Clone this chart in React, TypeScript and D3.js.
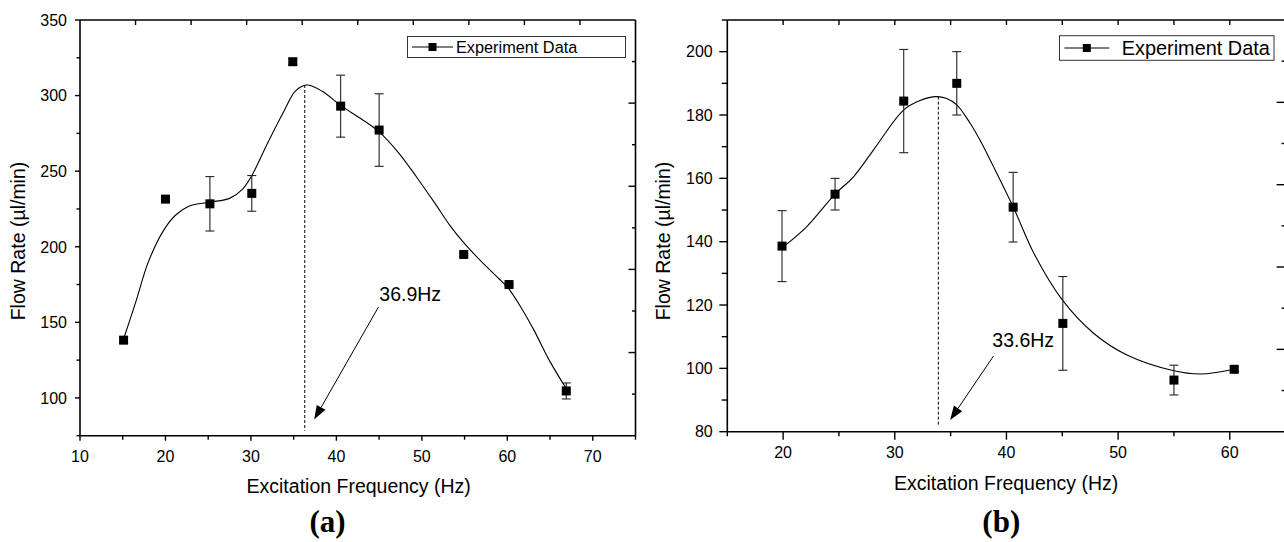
import React from "react";
import * as d3 from "d3";

// ---------- Panel (a) data ----------
const freqA = [15.1, 20.0, 25.2, 30.1, 34.9, 40.5, 45.0, 54.9, 60.2, 66.9];
const flowA = [138.2, 231.5, 228.4, 235.3, 322.4, 293.0, 277.2, 194.9, 175.0, 104.6];
const errA = [2, 2, 18, 11.8, 2, 20.5, 24, 1, 1, 5.3];
const fitXA = [15.1, 16.5, 18, 19.8, 21.2, 22.8, 25.2, 27.5, 29, 30.1, 31.9, 33.8, 35.2, 36.5, 38.3, 40.6, 42.8, 45, 47.3, 49.4, 51.5, 53.3, 55, 57, 59, 60.2, 61.8, 63.1, 65, 66.8];
const fitYA = [139, 163, 190, 211, 221, 227, 229.5, 232, 238, 247, 268, 289, 303, 307, 303, 293, 285, 276, 262, 246, 229, 214, 202, 190, 179, 172, 158, 145, 124, 107];
const peakA = [36.3, 307];
const arrowA = [44.93, 160.2, 37.4, 85.7];
const labelA = "36.9Hz";
const xTicksA = [10, 20, 30, 40, 50, 60, 70];
const xMinorA = [15, 25, 35, 45, 55, 65, 75];
const yTicksA = [100, 150, 200, 250, 300, 350];
const yMinorA = [75, 125, 175, 225, 275, 325];

// ---------- Panel (b) data ----------
const freqB = [19.9, 24.65, 30.8, 35.55, 40.6, 45.05, 55.0, 60.4];
const flowB = [138.6, 155.0, 184.4, 190.0, 150.9, 114.2, 96.3, 99.7];
const errB = [11.2, 5, 16.3, 10, 11, 14.8, 4.7, 0.8];
const fitXB = [20.2, 22.1, 24.65, 26.3, 28.1, 30.8, 32.2, 33.6, 34.6, 35.55, 36.75, 37.64, 38.84, 40.6, 42.5, 45, 47.8, 50.8, 54.9, 57.4, 60.4];
const fitYB = [138.9, 144.7, 155, 160.5, 169, 181.6, 184.5, 185.8, 185.3, 183.2, 177.4, 172, 163.7, 151, 136, 121.6, 111.1, 104.2, 99.3, 98.2, 99.7];
const peakB = [33.9, 185.8];
const arrowB = [38.84, 103.9, 34.96, 83.7];
const labelB = "33.6Hz";
const xTicksB = [20, 30, 40, 50, 60];
const xMinorB = [15, 25, 35, 45, 55, 65];
const yTicksB = [80, 100, 120, 140, 160, 180, 200];
const yMinorB = [90, 110, 130, 150, 170, 190, 210];

const auxTicks = [1, 2, 3, 4, 5, 6, 7, 8, 9];

const SANS = "'Liberation Sans', Arial, Helvetica, sans-serif";
const SERIF = "'Liberation Serif', 'Times New Roman', serif";

type PanelProps = {
  xs: number[]; ys: number[]; errs: number[];
  fitX: number[]; fitY: number[];
  peak: number[]; arrow: number[]; label: string;
  xDomain: [number, number]; yDomain: [number, number];
  xRange: [number, number]; yRange: [number, number];
  xTicks: number[]; xMinor: number[]; yTicks: number[]; yMinor: number[];
  majorLen: number; minorLen: number; yMinorLen: number; rightLong: number; rightShort: number;
  yLabelGap: number;
  legend: { x0: number; x1: number; y0: number; y1: number; lx0: number; lx1: number; tx: number; fs: number };
  labelPos: [number, number]; labelFs: number;
  xTitle: [number, number]; yTitle: [number, number];
  tag: string; tagX: number;
};

function Panel(p: PanelProps) {
  const x = d3.scaleLinear().domain(p.xDomain).range(p.xRange);
  const y = d3.scaleLinear().domain(p.yDomain).range(p.yRange);
  const auxX = d3.scaleLinear().domain([0, 10]).range(p.xRange);
  const auxY = d3.scaleLinear().domain([0, 10]).range(p.yRange);
  const [xl, xr] = p.xRange;
  const [yb, yt] = p.yRange;
  const line = d3.line<number>()
    .x((_, i) => x(p.fitX[i]))
    .y((_, i) => y(p.fitY[i]))
    .curve(d3.curveCatmullRom.alpha(0.5));
  const fitPath = line(p.fitX) || "";

  const ax1 = x(p.arrow[0]), ay1 = y(p.arrow[1]), ax2 = x(p.arrow[2]), ay2 = y(p.arrow[3]);
  const ang = Math.atan2(ay2 - ay1, ax2 - ax1);
  const hl = 14, hw = 5;
  const bx = ax2 - hl * Math.cos(ang), by = ay2 - hl * Math.sin(ang);
  const head = `M${ax2},${ay2}L${bx + hw * Math.sin(ang)},${by - hw * Math.cos(ang)}L${bx - hw * Math.sin(ang)},${by + hw * Math.cos(ang)}Z`;

  const lg = p.legend;
  const ly = (lg.y0 + lg.y1) / 2;
  const ms = 9;
  const cap = 4.5;

  return (
    <g>
      {/* fit curve */}
      <path d={fitPath} fill="none" stroke="#000" strokeWidth={1.1} />
      {/* dashed peak line */}
      <line x1={x(p.peak[0])} x2={x(p.peak[0])} y1={y(p.peak[1])} y2={yb - 5} stroke="#000" strokeWidth={1} strokeDasharray="3,2" />
      {/* error bars */}
      {p.xs.map((v, i) => {
        const cx = x(v);
        const t = y(p.ys[i] + p.errs[i]);
        const b = y(p.ys[i] - p.errs[i]);
        return (
          <g key={"e" + i} stroke="#222" strokeWidth={1.1}>
            <line x1={cx} x2={cx} y1={t} y2={b} />
            <line x1={cx - cap} x2={cx + cap} y1={t} y2={t} />
            <line x1={cx - cap} x2={cx + cap} y1={b} y2={b} />
          </g>
        );
      })}
      {/* markers */}
      {p.xs.map((v, i) => (
        <rect key={"m" + i} x={x(v) - ms / 2} y={y(p.ys[i]) - ms / 2} width={ms} height={ms} fill="#000" />
      ))}
      {/* annotation */}
      <line x1={ax1} y1={ay1} x2={bx} y2={by} stroke="#000" strokeWidth={1} />
      <path d={head} fill="#000" />
      <text x={p.labelPos[0]} y={p.labelPos[1]} fontFamily={SANS} fontSize={p.labelFs} fill="#000">{p.label}</text>

      {/* frame */}
      <g stroke="#000" strokeWidth={1.6} fill="none">
        <line x1={xl} x2={xr} y1={yb} y2={yb} />
        <line x1={xl} x2={xr} y1={yt} y2={yt} />
        <line x1={xl} x2={xl} y1={yt} y2={yb} />
        <line x1={xr} x2={xr} y1={yt} y2={yb} />
      </g>
      {/* ticks */}
      <g stroke="#000" strokeWidth={1.4}>
        {p.xTicks.map((t) => <line key={"xt" + t} x1={x(t)} x2={x(t)} y1={yb} y2={yb + p.majorLen} />)}
        {p.xMinor.map((t) => <line key={"xm" + t} x1={x(t)} x2={x(t)} y1={yb} y2={yb + p.minorLen} />)}
        {p.yTicks.map((t) => <line key={"yt" + t} x1={xl} x2={xl - p.majorLen} y1={y(t)} y2={y(t)} />)}
        {p.yMinor.map((t) => <line key={"ym" + t} x1={xl} x2={xl - p.yMinorLen} y1={y(t)} y2={y(t)} />)}
        {auxTicks.map((t) => <line key={"tt" + t} x1={auxX(t)} x2={auxX(t)} y1={yt} y2={yt + 5} />)}
        {auxTicks.map((t) => <line key={"rt" + t} x1={xr} x2={xr - (t % 2 === 0 ? p.rightLong : p.rightShort)} y1={auxY(t)} y2={auxY(t)} />)}
      </g>
      {/* tick labels */}
      <g fontFamily={SANS} fontSize={16} fill="#000">
        {p.xTicks.map((t) => (
          <text key={"xl" + t} x={x(t)} y={yb + 26.6} textAnchor="middle">{t}</text>
        ))}
        {p.yTicks.map((t) => (
          <text key={"yl" + t} x={xl - p.yLabelGap} y={y(t)} dy="0.36em" textAnchor="end">{t}</text>
        ))}
      </g>
      {/* axis titles */}
      <text x={p.xTitle[0]} y={p.xTitle[1]} textAnchor="middle" fontFamily={SANS} fontSize={19.5} fill="#000">Excitation Frequency (Hz)</text>
      <text transform={`translate(${p.yTitle[0]},${p.yTitle[1]}) rotate(-90)`} textAnchor="middle" fontFamily={SANS} fontSize={19.5} fill="#000">Flow Rate (µl/min)</text>
      {/* legend */}
      <rect x={lg.x0} y={lg.y0} width={lg.x1 - lg.x0} height={lg.y1 - lg.y0} fill="#fff" stroke="#333" strokeWidth={1} />
      <line x1={lg.lx0} x2={lg.lx1} y1={ly} y2={ly} stroke="#000" strokeWidth={1} />
      <rect x={(lg.lx0 + lg.lx1) / 2 - 4} y={ly - 4} width={8} height={8} fill="#000" />
      <text x={lg.tx} y={ly} dy="0.36em" fontFamily={SANS} fontSize={lg.fs} fill="#000">Experiment Data</text>
      {/* panel tag */}
      <text x={p.tagX} y={532} textAnchor="middle" fontFamily={SERIF} fontWeight="bold" fontSize={31} fill="#000">{p.tag}</text>
    </g>
  );
}

export default function App() {
  return (
    <div style={{ position: "absolute", left: 0, top: 0 }}>
      <svg width={1284} height={542} style={{ display: "block", background: "#fff" }}>
        <Panel
          xs={freqA} ys={flowA} errs={errA} fitX={fitXA} fitY={fitYA}
          peak={peakA} arrow={arrowA} label={labelA}
          xDomain={[10, 75]} yDomain={[75, 350]} xRange={[80, 635.5]} yRange={[435.7, 20]}
          xTicks={xTicksA} xMinor={xMinorA} yTicks={yTicksA} yMinor={yMinorA}
          majorLen={5} minorLen={4} yMinorLen={3.5} rightLong={7} rightShort={3.5}
          yLabelGap={13}
          legend={{ x0: 407.5, x1: 625.5, y0: 36.5, y1: 57.5, lx0: 412, lx1: 453, tx: 456, fs: 16.3 }}
          labelPos={[379.3, 300.7]} labelFs={19.5}
          xTitle={[358.7, 492.7]} yTitle={[25, 241]}
          tag="(a)" tagX={327.5}
        />
        <Panel
          xs={freqB} ys={flowB} errs={errB} fitX={fitXB} fitY={fitYB}
          peak={peakB} arrow={arrowB} label={labelB}
          xDomain={[15, 65]} yDomain={[80, 210]} xRange={[727.3, 1285.6]} yRange={[431.7, 20]}
          xTicks={xTicksB} xMinor={xMinorB} yTicks={yTicksB} yMinor={yMinorB}
          majorLen={8} minorLen={4.5} yMinorLen={5.5} rightLong={9} rightShort={4}
          yLabelGap={14.6}
          legend={{ x0: 1059.5, x1: 1274, y0: 35.7, y1: 60.3, lx0: 1064.3, lx1: 1109.3, tx: 1121.7, fs: 19.9 }}
          labelPos={[992.3, 346.7]} labelFs={19.5}
          xTitle={[1006.2, 490]} yTitle={[670, 241]}
          tag="(b)" tagX={1001.3}
        />
      </svg>
    </div>
  );
}
